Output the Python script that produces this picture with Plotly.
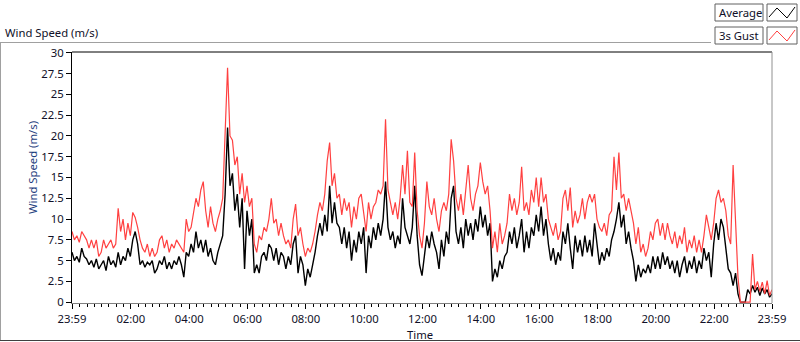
import plotly.graph_objects as go

# ---- data (5-minute samples, minutes since 23:59) ----
step_min = 5
average = [
    6.0, 5.0, 5.5, 4.8, 6.5, 5.5, 5.2, 4.5, 5.0, 4.2,
    5.2, 4.0, 4.5, 5.0, 3.8, 5.5, 4.5, 5.0, 4.2, 6.0,
    4.5, 5.5, 5.0, 6.5, 5.5, 7.5, 8.5, 7.0, 4.5, 5.0,
    4.2, 4.8, 4.5, 5.0, 3.5, 4.0, 5.0, 4.5, 5.5, 4.0,
    4.8, 4.0, 5.0, 4.5, 5.5, 4.5, 3.0, 6.0, 5.5, 7.0,
    6.0, 8.5, 6.5, 7.5, 6.0, 7.5, 5.5, 6.5, 5.0, 4.5,
    6.0, 7.0, 8.0, 13.0, 21.0, 14.0, 15.5, 11.0, 13.0, 9.0,
    12.5, 4.0, 11.0, 8.0, 10.0, 3.5, 4.5, 3.5, 5.5, 6.0,
    5.0, 7.0, 6.5, 5.0, 6.5, 4.5, 6.0, 5.5, 4.0, 5.5,
    4.5, 7.0, 8.0, 3.5, 5.5, 4.5, 2.0, 4.0, 3.0, 4.5,
    6.0, 8.0, 9.5, 8.0, 10.5, 8.5, 14.0, 9.5, 12.0, 9.5,
    9.0, 7.0, 9.0, 6.5, 8.5, 5.0, 7.5, 6.0, 8.5, 7.0,
    9.0, 3.5, 8.0, 6.5, 9.0, 7.5, 9.5, 8.0, 10.0, 14.5,
    9.0, 7.5, 8.5, 6.5, 8.0, 7.0, 12.5, 9.0, 8.0, 7.0,
    9.0, 14.0, 8.0, 4.5, 3.2, 6.0, 8.0, 6.5, 8.5, 7.0,
    6.0, 4.0, 7.5, 5.5, 8.5, 7.0, 12.5, 14.0, 8.5, 7.0,
    9.0, 6.5, 10.0, 8.0, 9.5, 7.5, 10.0, 8.5, 11.5, 9.0,
    10.5, 8.0, 9.5, 2.5, 4.0, 3.0, 5.0, 4.0, 5.5, 6.0,
    8.5, 7.0, 9.0, 6.5, 8.0, 10.0, 6.0, 8.5, 6.5, 9.0,
    8.0, 10.5, 8.5, 11.5, 8.0, 10.0, 7.0, 5.0, 6.5, 4.5,
    6.0, 5.0, 8.5, 7.0, 9.5, 6.5, 4.0, 8.0, 6.0, 7.5,
    5.5, 8.0, 6.0, 7.5, 5.5, 9.5, 7.0, 4.5, 6.0, 5.0,
    6.5, 5.5, 7.5, 8.5, 10.0, 12.0, 9.0, 10.5, 7.0, 8.5,
    6.5, 5.0, 2.5, 4.5, 3.0, 4.0, 3.5, 4.5, 3.5, 5.5,
    4.0, 5.5, 4.0, 6.0, 4.5, 5.5, 4.0, 5.0, 3.5, 5.0,
    3.0, 4.5, 5.5, 3.5, 5.0, 4.0, 5.5, 3.5, 5.0, 4.0,
    6.5, 5.0, 6.0, 3.0, 7.0, 9.5, 7.5, 10.0, 9.0, 6.5,
    4.0, 3.5, 2.0, 3.5, 1.0, 0.0, 0.0, 0.0, 1.5, 1.0,
    2.0, 1.2, 1.8, 0.8, 1.7, 1.0, 1.5, 0.6, 1.0,
]
gust_3s = [
    8.5, 7.5, 8.0, 7.2, 8.5, 8.0, 7.5, 6.5, 7.5, 6.5,
    7.5, 5.5, 6.0, 7.5, 6.5, 7.0, 7.5, 6.5, 7.0, 11.3,
    8.5, 10.0, 7.5, 9.5, 8.0, 10.8, 10.2, 9.0, 7.5, 6.5,
    6.0, 7.0, 5.5, 6.5, 5.5, 6.0, 7.5, 8.0, 6.5, 7.5,
    6.0, 7.0, 6.5, 7.5, 7.0, 6.5, 6.0, 10.0, 8.5, 9.0,
    11.0, 12.5, 11.5, 13.5, 14.5, 11.0, 9.0, 11.5, 9.5, 8.5,
    10.0, 11.0, 12.5, 21.0, 28.2, 20.0, 19.5, 16.5, 17.5, 13.0,
    15.5, 12.0, 14.0, 11.5, 12.5, 7.0, 6.0, 8.0, 7.5, 9.0,
    8.5, 10.0, 12.5, 9.5, 10.0, 8.0, 9.5, 8.0, 7.0, 7.5,
    6.5, 10.0, 11.8, 8.0, 9.0, 7.0, 5.5, 6.5, 6.0, 7.0,
    8.5, 10.5, 12.0, 11.0, 13.0, 17.0, 19.2, 14.0, 15.5, 12.5,
    13.0, 10.5, 12.5, 11.0, 12.0, 9.0, 11.5, 10.0, 12.5, 13.0,
    11.0, 8.5, 12.0, 10.0, 11.5, 12.0, 13.5, 13.0, 14.0, 22.0,
    13.5, 12.0, 10.5, 12.0, 10.0, 12.5, 16.5, 13.0, 18.2, 12.0,
    11.5, 18.0, 11.0, 8.0, 6.5, 9.5, 14.5, 11.5, 10.5, 12.5,
    10.0, 8.5, 11.0, 12.0, 11.0, 13.0, 19.6, 17.0, 12.5, 11.0,
    13.0, 10.5, 13.5, 16.5, 12.5, 11.0, 13.0, 14.0, 16.8, 14.5,
    13.0, 14.0, 11.0, 6.5, 8.5, 6.0, 9.5, 7.0, 8.0, 9.5,
    13.0, 11.0, 12.5, 10.5, 12.0, 16.3, 11.0, 12.0, 10.5, 13.5,
    12.0, 15.0, 11.5, 15.0, 12.0, 13.0, 10.0, 9.0, 8.0, 9.5,
    7.5, 8.5, 12.5, 13.5, 11.0, 13.8, 9.0, 11.0, 9.5, 10.5,
    12.5, 10.0, 12.0, 13.0, 12.0, 13.0, 10.0, 9.0, 8.5, 9.5,
    8.0, 10.5, 11.0, 17.5, 13.5, 18.0, 12.5, 13.0, 11.0, 12.5,
    11.0, 9.5, 7.0, 9.0, 6.0, 7.0, 5.5, 6.5, 8.5, 7.5,
    9.5, 10.0, 8.0, 9.5, 7.5, 9.5, 8.0, 7.0, 8.5, 6.5,
    8.0, 7.0, 9.0, 6.0, 7.5, 6.5, 8.0, 6.0, 7.5, 6.0,
    8.0, 10.5, 9.0, 7.5, 9.5, 12.5, 13.5, 12.0, 12.5, 11.0,
    8.0, 7.0, 16.5, 9.0, 3.0, 0.0, 0.0, 0.0, 0.0, 0.0,
    5.8, 1.5, 2.5, 1.3, 2.4, 1.0, 2.6, 0.8, 1.5,
]
minutes = [i * step_min for i in range(len(average))]

tick_minutes = [0, 121, 241, 361, 481, 601, 721, 841, 961, 1081, 1201, 1321, 1440]
tick_labels = ["23:59", "02:00", "04:00", "06:00", "08:00", "10:00", "12:00",
               "14:00", "16:00", "18:00", "20:00", "22:00", "23:59"]
y_ticks = [0, 2.5, 5, 7.5, 10, 12.5, 15, 17.5, 20, 22.5, 25, 27.5, 30]
y_labels = ["0", "2.5", "5", "7.5", "10", "12.5", "15", "17.5", "20", "22.5", "25", "27.5", "30"]

# ---- layout geometry (pixels) ----
W, H = 800, 342
ML, MR, MT, MB = 72, 28, 52, 39
PW, PH = W - ML - MR, H - MT - MB


def xp(px):
    return (px - ML) / PW


def yp(py):
    return (H - MB - py) / PH


FONT = "Noto Sans"
FS = 11.3
TXT = "#101028"

fig = go.Figure()
fig.add_trace(go.Scatter(x=minutes, y=average, mode="lines", name="Average",
                         line=dict(color="#000000", width=1.4)))
fig.add_trace(go.Scatter(x=minutes, y=gust_3s, mode="lines", name="3s Gust",
                         line=dict(color="#ff4040", width=1.2)))

fig.update_layout(
    width=W, height=H,
    margin=dict(l=ML, r=MR, t=MT, b=MB, pad=0),
    paper_bgcolor="white", plot_bgcolor="white",
    showlegend=False,
    font=dict(family=FONT, size=FS, color=TXT),
)
fig.update_xaxes(
    range=[0, 1440], tickmode="array", tickvals=tick_minutes, ticktext=tick_labels,
    showgrid=False, zeroline=False, showline=True, linecolor="#808080", linewidth=1,
    ticks="outside", ticklen=5, tickcolor="#000000", tickwidth=1,
    minor=dict(tick0=1, dtick=15, ticks="outside", ticklen=3, tickcolor="#000000", showgrid=False),
    tickfont=dict(family=FONT, size=FS, color=TXT),
)
fig.update_yaxes(
    range=[-0.1, 30.1], tickmode="array", tickvals=y_ticks, ticktext=y_labels,
    showgrid=False, zeroline=False, showline=True, linecolor="#000000", linewidth=1,
    ticks="outside", ticklen=5, tickcolor="#000000",
    tickfont=dict(family=FONT, size=FS, color=TXT),
)

shapes = []
# plot frame top / right
shapes.append(dict(type="line", xref="paper", yref="paper", x0=0, x1=1, y0=1, y1=1,
                   line=dict(color="#000000", width=1)))
shapes.append(dict(type="line", xref="paper", yref="paper", x0=1, x1=1, y0=0, y1=1,
                   line=dict(color="#909090", width=1)))
# outer frame
shapes.append(dict(type="line", xref="paper", yref="paper", x0=xp(0), x1=xp(711), y0=yp(42.5), y1=yp(42.5),
                   line=dict(color="#a0a0a0", width=1)))
shapes.append(dict(type="line", xref="paper", yref="paper", x0=xp(0.5), x1=xp(0.5), y0=yp(42.5), y1=yp(340.5),
                   line=dict(color="#a0a0a0", width=1)))
shapes.append(dict(type="line", xref="paper", yref="paper", x0=xp(0), x1=xp(800), y0=yp(340.5), y1=yp(340.5),
                   line=dict(color="#404040", width=1)))
# legend boxes
for (x0, y0, x1, y1) in [(715, 4, 763, 21), (767, 4, 797, 21), (715, 27, 763, 44), (767, 27, 797, 44)]:
    shapes.append(dict(type="rect", xref="paper", yref="paper", x0=xp(x0), x1=xp(x1), y0=yp(y0), y1=yp(y1),
                       line=dict(color="#606060", width=1), fillcolor="white"))


def icon_path(dy):
    pts = [(769, 17 + dy), (777, 8 + dy), (787, 18 + dy), (795, 7 + dy)]
    return "M " + " L ".join(f"{xp(a):.5f},{yp(b):.5f}" for a, b in pts)


shapes.append(dict(type="path", xref="paper", yref="paper", path=icon_path(0),
                   line=dict(color="#000000", width=1)))
shapes.append(dict(type="path", xref="paper", yref="paper", path=icon_path(23),
                   line=dict(color="#ff4040", width=1)))
fig.update_layout(shapes=shapes)

annotations = [
    dict(text="Wind Speed (m/s)", x=xp(3), y=yp(32), xanchor="left", yanchor="middle"),
    dict(text="Time", x=xp(420), y=yp(334), xanchor="center", yanchor="middle"),
    dict(text="Wind Speed (m/s)", x=xp(32), y=yp(168), xanchor="center", yanchor="middle",
         textangle=-90, font=dict(family=FONT, size=FS, color="#1f3f80")),
    dict(text="Average", x=xp(717), y=yp(12.5), xanchor="left", yanchor="middle"),
    dict(text="3s Gust", x=xp(717), y=yp(35.5), xanchor="left", yanchor="middle"),
]
for a in annotations:
    a.update(xref="paper", yref="paper", showarrow=False)
    a.setdefault("font", dict(family=FONT, size=FS, color=TXT))
fig.update_layout(annotations=annotations)

fig.write_html("out.html", config={"displayModeBar": False},
               post_script="document.body.style.margin='0';document.body.style.overflow='hidden';")
